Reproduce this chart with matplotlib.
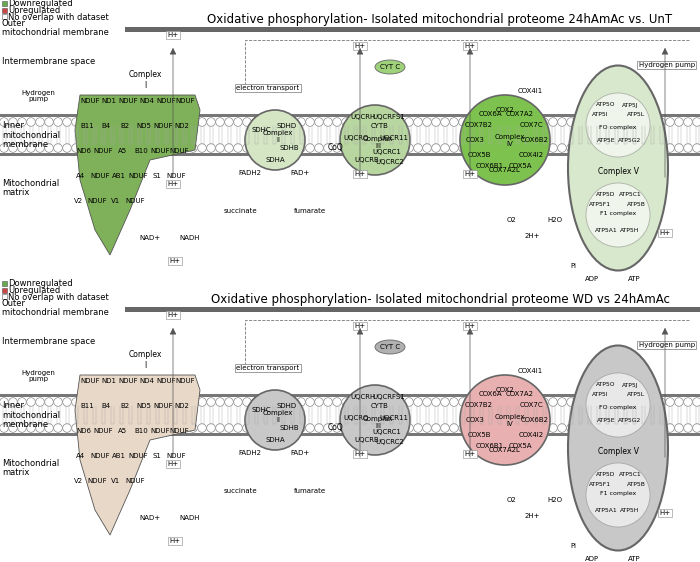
import matplotlib
matplotlib.use("Agg")
import matplotlib.pyplot as plt
from matplotlib.patches import Ellipse, Rectangle, Circle, Polygon
import numpy as np

titles = ["Oxidative phosphorylation- Isolated mitochondrial proteome 24hAmAc vs. UnT",
          "Oxidative phosphorylation- Isolated mitochondrial proteome WD vs 24hAmAc"]
legend_labels = ["Downregulated", "Upregulated", "No overlap with dataset"]
legend_colors = ["#6aa84f", "#cc4444", "#ffffff"]
genes = {
 "Complex I": ["NDUF","ND1","NDUF","ND4","NDUF","NDUF","B11","B4","B2","ND5","NDUF","ND2","ND6","NDUF","A5","B10","NDUF","NDUF","A4","NDUF","AB1","NDUF","S1","NDUF","V2","NDUF","V1","NDUF"],
 "Complex II": ["SDHC","SDHD","SDHA","SDHB"],
 "Complex III": ["UQCRH","UQCRFS1","CYTB","UQCRQ","UQCR11","UQCRB","UQCRC2","UQCRC1"],
 "Complex IV": ["COX6B2","COX7C","COX7A2","COX2","COX6A","COX7B2","COX3","COX5B","COX6B1","COX7A2L","COX5A","COX4I2"],
 "Complex V": ["ATP5O","ATP5J","ATP5I","ATP5L","ATP5E","ATP5G2","ATP5D","ATP5C1","ATP5F1","ATP5B","ATP5A1","ATP5H"],
}
colors_p1 = {"Complex I":"#7fb05a","Complex II":"#d4e6c4","Complex III":"#b8d6a0","Complex IV":"#7dc24f","Complex V":"#d8e8cc"}
colors_p2 = {"Complex I":"#e8d8c8","Complex II":"#c8c8c8","Complex III":"#c8c8c8","Complex IV":"#e8b0b0","Complex V":"#c8c8c8"}
cytc_colors = ["#9fd07a", "#b0b0b0"]

fig = plt.figure(figsize=(7, 5.62), dpi=100)
ax = fig.add_axes([0, 0, 1, 1])
ax.set_xlim(0, 700); ax.set_ylim(562, 0); ax.axis("off")

def panel(oy, title, cols, cytc):
    for i, (l, c) in enumerate(zip(legend_labels, legend_colors)):
        ax.add_patch(Rectangle((2, oy + 1 + i*6.5), 5, 5, fc=c, ec="#555", lw=0.4))
        ax.text(8, oy + 4 + i*6.5, l, fontsize=6, va="center")
    ax.text(440, oy + 20, title, fontsize=8.5, ha="center", va="center")
    ax.add_patch(Rectangle((125, oy + 27), 575, 5, fc="#666", ec="none"))
    ax.text(2, oy + 28, "Outer\nmitochondrial membrane", fontsize=6, va="center", linespacing=1.1)
    ax.text(2, oy + 62, "Intermembrane space", fontsize=6, va="center")
    ax.text(2, oy + 135, "Inner\nmitochondrial\nmembrane", fontsize=6, va="center", linespacing=1.1)
    ax.text(2, oy + 188, "Mitochondrial\nmatrix", fontsize=6, va="center", linespacing=1.1)
    ax.add_patch(Rectangle((0, oy + 114), 700, 3, fc="#777", ec="none"))
    ax.add_patch(Rectangle((0, oy + 153), 700, 3, fc="#777", ec="none"))
    for x in np.arange(4, 700, 9):
        ax.add_patch(Circle((x, oy + 122), 4.3, fc="white", ec="#888", lw=0.5))
        ax.add_patch(Circle((x, oy + 148), 4.3, fc="white", ec="#888", lw=0.5))
        ax.plot([x-1.5, x-1.5, x+1.5, x+1.5], [oy+126, oy+144, oy+144, oy+126], color="#aaa", lw=0.3)
    poly = [(80, 95), (195, 95), (200, 110), (195, 150), (150, 160), (130, 210), (110, 255), (95, 230), (80, 180), (75, 130)]
    ax.add_patch(Polygon([(x, oy + y) for x, y in poly], fc=cols["Complex I"], ec="#555", lw=0.6))
    ax.text(145, oy + 80, "Complex\nI", fontsize=5.5, ha="center", va="center")
    for i, s in enumerate(genes["Complex I"]):
        r, c = divmod(i, 6)
        ax.text(90 + c*19 - r*3, oy + 103 + r*25, s, fontsize=5, ha="center")
    ax.text(38, oy + 96, "Hydrogen\npump", fontsize=5, ha="center", va="center")
    ax.add_patch(Circle((275, oy + 140), 30, fc=cols["Complex II"], ec="#666", lw=1.2))
    ax.text(278, oy + 137, "Complex\nII", fontsize=5, ha="center", va="center")
    for s, (dx, dy) in zip(genes["Complex II"], [(-14, -10), (12, -14), (0, 20), (14, 8)]):
        ax.text(275 + dx, oy + 140 + dy, s, fontsize=5, ha="center", va="center")
    ax.text(268, oy + 90, "electron transport", fontsize=5, ha="center", bbox=dict(fc="white", ec="#777", lw=0.5, pad=1))
    ax.text(335, oy + 150, "CoQ", fontsize=5.5, ha="center")
    ax.text(250, oy + 175, "FADH2", fontsize=5, ha="center"); ax.text(300, oy + 175, "FAD+", fontsize=5, ha="center")
    ax.text(240, oy + 213, "succinate", fontsize=5, ha="center"); ax.text(310, oy + 213, "fumarate", fontsize=5, ha="center")
    ax.add_patch(Circle((375, oy + 140), 35, fc=cols["Complex III"], ec="#666", lw=1.2))
    ax.text(378, oy + 142, "Complex\nIII", fontsize=5, ha="center", va="center")
    pos3 = [(-12, -23), (14, -23), (5, -14), (-19, -2), (19, -2), (-8, 20), (15, 22), (12, 12)]
    for s, (dx, dy) in zip(genes["Complex III"], pos3):
        ax.text(375 + dx, oy + 140 + dy, s, fontsize=5, ha="center", va="center")
    ax.add_patch(Ellipse((390, oy + 67), 30, 14, fc=cytc, ec="#666", lw=0.6))
    ax.text(390, oy + 67, "CYT C", fontsize=5, ha="center", va="center")
    ax.add_patch(Circle((505, oy + 140), 45, fc=cols["Complex IV"], ec="#666", lw=1.2))
    ax.text(510, oy + 140, "Complex\nIV", fontsize=5, ha="center", va="center")
    ang = np.linspace(0, 2*np.pi, len(genes["Complex IV"]), endpoint=False)
    for s, a in zip(genes["Complex IV"], ang):
        ax.text(505 + 30*np.cos(a), oy + 140 - 30*np.sin(a), s, fontsize=5, ha="center", va="center")
    ax.text(530, oy + 93, "COX4I1", fontsize=5, ha="center")
    ax.text(507, oy + 222, "O2", fontsize=5); ax.text(547, oy + 222, "H2O", fontsize=5)
    ax.text(525, oy + 238, "2H+", fontsize=5)
    ax.add_patch(Ellipse((618, oy + 168), 100, 205, fc=cols["Complex V"], ec="#666", lw=1.5))
    ax.add_patch(Circle((618, oy + 125), 32, fc="white", ec="#888", lw=0.6, alpha=0.6))
    ax.add_patch(Circle((618, oy + 215), 32, fc="white", ec="#888", lw=0.6, alpha=0.6))
    ax.text(618, oy + 172, "Complex V", fontsize=5.5, ha="center", va="center")
    ax.text(618, oy + 127, "FO complex", fontsize=4.5, ha="center", va="center")
    ax.text(618, oy + 213, "F1 complex", fontsize=4.5, ha="center", va="center")
    offs = [(-12, -20), (12, -20), (-18, -10), (18, -10), (-12, 16), (12, 16)]
    for i, s in enumerate(genes["Complex V"]):
        cy = 125 if i < 6 else 215
        dx, dy = offs[i % 6]
        ax.text(618 + dx, oy + cy + dy, s, fontsize=4.3, ha="center", va="center")
    ax.text(695, oy + 67, "Hydrogen pump", fontsize=5, ha="right", bbox=dict(fc="white", ec="#777", lw=0.5, pad=1))
    ax.text(628, oy + 281, "ATP", fontsize=5); ax.text(585, oy + 281, "ADP", fontsize=5); ax.text(570, oy + 268, "Pi", fontsize=5)
    for x, y in [(173, 37), (173, 186), (360, 48), (360, 176), (470, 48), (470, 176), (665, 235), (175, 263)]:
        ax.text(x, oy + y, "H+", fontsize=5, ha="center", bbox=dict(fc="white", ec="#888", lw=0.4, pad=0.8))
    for x in [173, 360, 470, 665]:
        ax.annotate("", xy=(x, oy + 45), xytext=(x, oy + 180), arrowprops=dict(arrowstyle="-|>", lw=0.5, color="#555"))
    ax.plot([245, 245, 690], [oy + 85, oy + 40, oy + 40], ls="--", lw=0.6, color="#777")
    ax.text(150, oy + 240, "NAD+", fontsize=5, ha="center"); ax.text(190, oy + 240, "NADH", fontsize=5, ha="center")

panel(0, titles[0], colors_p1, cytc_colors[0])
panel(280, titles[1], colors_p2, cytc_colors[1])
fig.savefig("out.png", dpi=100)
